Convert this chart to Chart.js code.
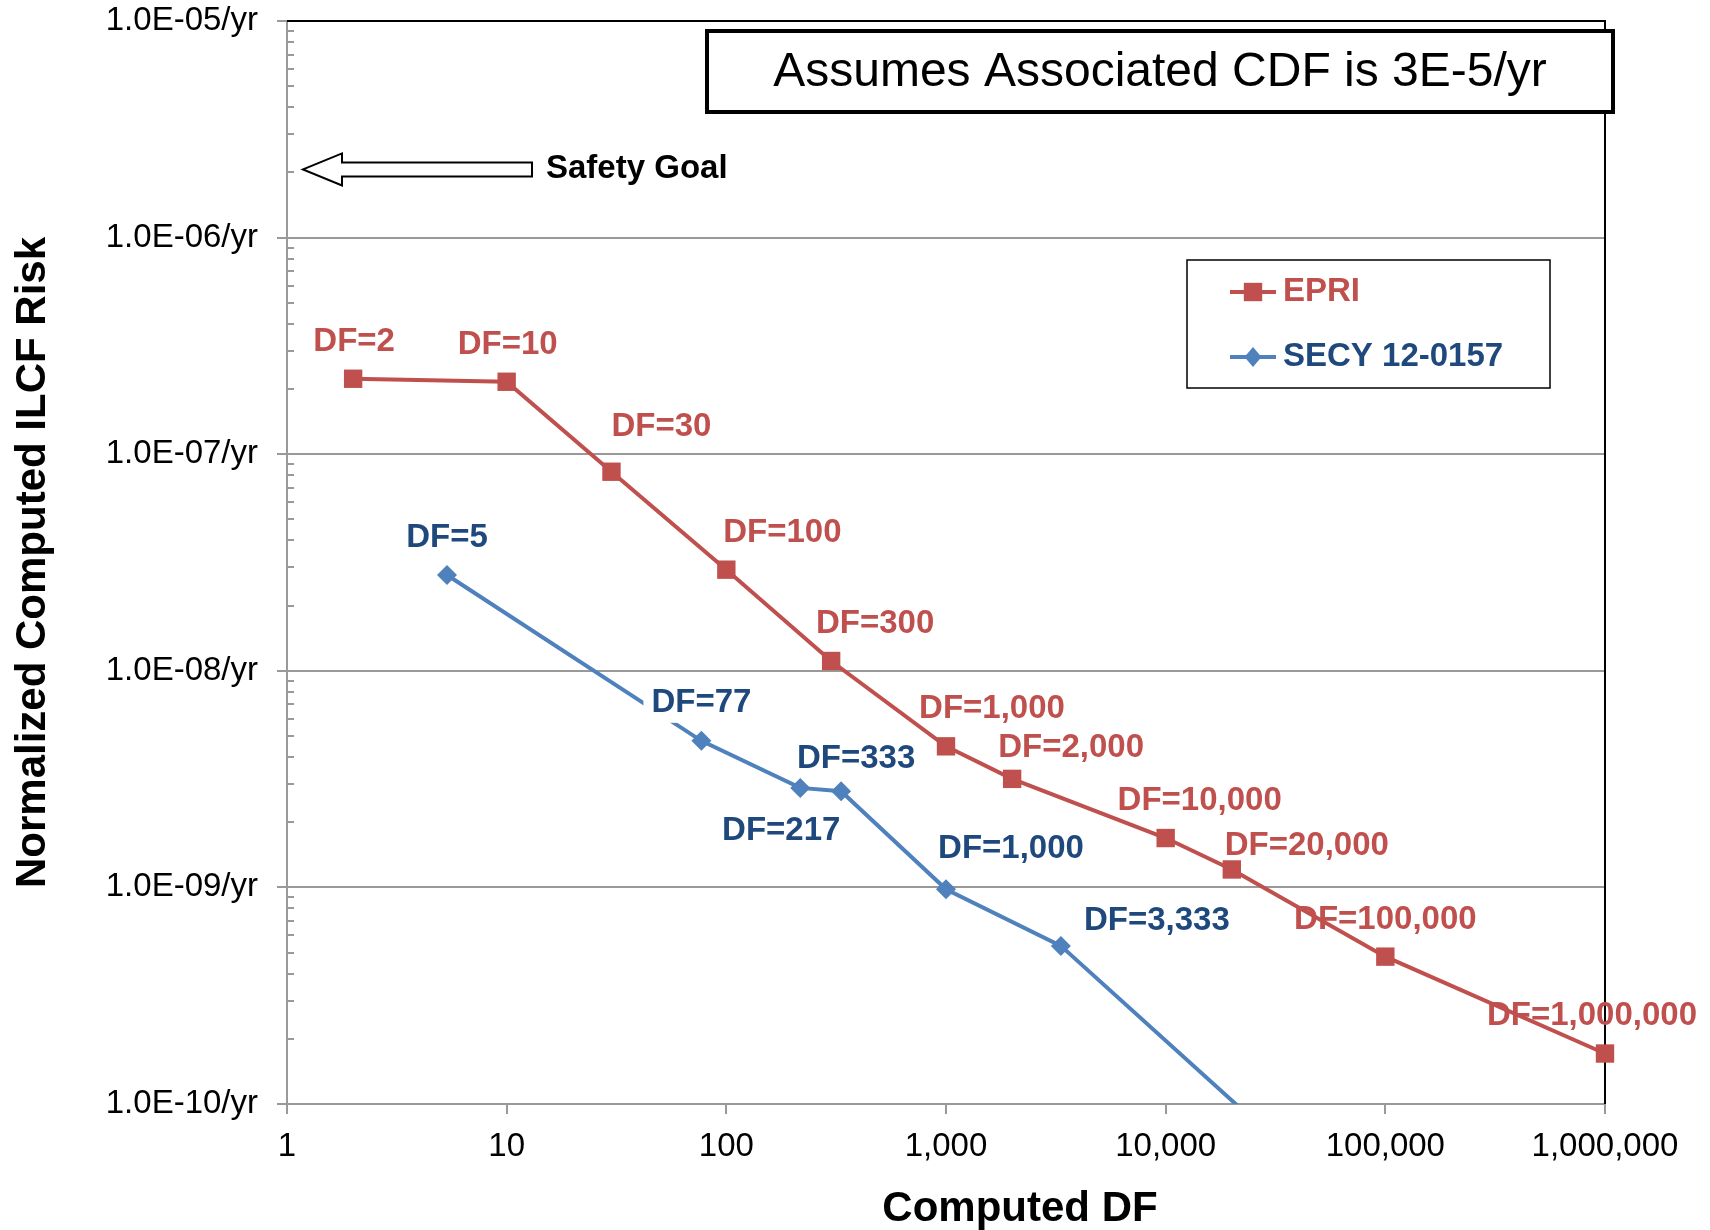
<!DOCTYPE html>
<html>
<head>
<meta charset="utf-8">
<script src="https://cdn.jsdelivr.net/npm/chart.js@4.4.1/dist/chart.umd.min.js"></script>
<style>
  html, body { margin: 0; padding: 0; background: #fff; }
</style>
</head>
<body>
<canvas id="chart" width="1710" height="1230"></canvas>
<script>
// EPRI series
const epriDF = [2, 10, 30, 100, 300, 1000, 2000, 10000, 20000, 100000, 1000000];
const epriRisk = [2.23e-7, 2.16e-7, 8.3e-8, 2.93e-8, 1.11e-8, 4.48e-9, 3.17e-9, 1.69e-9, 1.21e-9, 4.79e-10, 1.71e-10];
const epriLabels = ["DF=2", "DF=10", "DF=30", "DF=100", "DF=300", "DF=1,000", "DF=2,000",
  "DF=10,000", "DF=20,000", "DF=100,000", "DF=1,000,000"];

// SECY 12-0157 series (last point runs off the bottom of the axis)
const secyDF = [5.35, 77, 217, 333, 1000, 3333, 33333];
const secyRisk = [2.77e-8, 4.75e-9, 2.88e-9, 2.78e-9, 9.8e-10, 5.37e-10, 6.5e-11];
const secyLabels = ["DF=5", "DF=77", "DF=217", "DF=333", "DF=1,000", "DF=3,333", ""];

// axes
const xTicks = [1, 10, 100, 1000, 10000, 100000, 1000000];
const xTickLabels = ["1", "10", "100", "1,000", "10,000", "100,000", "1,000,000"];
const yTicks = [1e-10, 1e-9, 1e-8, 1e-7, 1e-6, 1e-5];
const yTickLabels = ["1.0E-10/yr", "1.0E-09/yr", "1.0E-08/yr", "1.0E-07/yr", "1.0E-06/yr", "1.0E-05/yr"];

const safetyGoal = 2e-6;
const noteText = "Assumes Associated CDF is 3E-5/yr";

// label placement relative to each point (px)
const epriLabelOffsets = [[1, -37], [1, -37], [50, -45], [56, -37], [44, -37], [46, -37],
  [59, -31], [34, -37], [75, -24], [0, -37], [-13, -38]];
const secyLabelOffsets = [[0, -37], [0, -38], [-19, 43], [15, -32], [65, -40], [96, -25], null];

const FONT = "'Liberation Sans', Arial, sans-serif";
const RED = "#C0504D";
const BLUE = "#4F81BD";
const NAVY = "#1F497D";

// top / right frame + minor ticks on the y axis
const framePlugin = {
  id: "frame",
  beforeDatasetsDraw(chart) {
    const { ctx, chartArea: a } = chart;
    const y = chart.scales.y;
    ctx.save();
    ctx.strokeStyle = "#999";
    ctx.lineWidth = 2;
    for (let n = -10; n < -5; n++) {
      for (let m = 2; m < 10; m++) {
        const py = Math.round(y.getPixelForValue(m * Math.pow(10, n)));
        ctx.beginPath();
        ctx.moveTo(a.left, py);
        ctx.lineTo(a.left + 7, py);
        ctx.stroke();
      }
    }
    ctx.strokeStyle = "#000";
    ctx.lineWidth = 2;
    ctx.beginPath();
    ctx.moveTo(a.left, a.top);
    ctx.lineTo(a.right, a.top);
    ctx.lineTo(a.right, a.bottom);
    ctx.stroke();
    ctx.restore();
  }
};

function drawMarker(ctx, style, x, y, r, color) {
  ctx.fillStyle = color;
  ctx.beginPath();
  if (style === "rect") {
    const s = Math.SQRT1_2 * r;
    ctx.rect(x - s, y - s, 2 * s, 2 * s);
  } else {
    ctx.moveTo(x, y - r);
    ctx.lineTo(x + r * 0.85, y);
    ctx.lineTo(x, y + r);
    ctx.lineTo(x - r * 0.85, y);
    ctx.closePath();
  }
  ctx.fill();
}

const annotatePlugin = {
  id: "annotate",
  afterDatasetsDraw(chart) {
    const { ctx } = chart;
    ctx.save();
    ctx.font = "bold 33px " + FONT;
    ctx.textAlign = "center";
    ctx.textBaseline = "middle";
    const sets = [
      { meta: chart.getDatasetMeta(0), texts: epriLabels, offs: epriLabelOffsets, color: RED },
      { meta: chart.getDatasetMeta(1), texts: secyLabels, offs: secyLabelOffsets, color: NAVY }
    ];
    sets.forEach(s => {
      s.meta.data.forEach((pt, i) => {
        const off = s.offs[i];
        if (!off || !s.texts[i]) return;
        const tx = pt.x + off[0];
        const ty = pt.y + off[1];
        if (s.texts[i] === "DF=77") {
          const w = ctx.measureText(s.texts[i]).width;
          ctx.fillStyle = "#fff";
          ctx.fillRect(tx - w / 2 - 8, ty - 18, w + 16, 38);
        }
        ctx.fillStyle = s.color;
        ctx.fillText(s.texts[i], tx, ty);
      });
    });
    ctx.restore();
  },
  afterDraw(chart) {
    const { ctx, chartArea: a } = chart;
    const ys = chart.scales.y;
    ctx.save();

    // note box
    ctx.fillStyle = "#fff";
    ctx.fillRect(707, 31, 906, 81);
    ctx.strokeStyle = "#000";
    ctx.lineWidth = 4;
    ctx.strokeRect(707, 31, 906, 81);
    ctx.fillStyle = "#000";
    ctx.font = "48px " + FONT;
    ctx.textAlign = "center";
    ctx.textBaseline = "middle";
    ctx.fillText(noteText, 1160, 73);

    // safety goal arrow
    const gy = ys.getPixelForValue(safetyGoal) - 3;
    ctx.beginPath();
    ctx.moveTo(a.left + 16, gy);
    ctx.lineTo(342, gy - 16);
    ctx.lineTo(342, gy - 7);
    ctx.lineTo(532, gy - 7);
    ctx.lineTo(532, gy + 7);
    ctx.lineTo(342, gy + 7);
    ctx.lineTo(342, gy + 16);
    ctx.closePath();
    ctx.fillStyle = "#fff";
    ctx.fill();
    ctx.lineWidth = 2;
    ctx.strokeStyle = "#000";
    ctx.stroke();
    ctx.fillStyle = "#000";
    ctx.font = "bold 33px " + FONT;
    ctx.textAlign = "left";
    ctx.fillText("Safety Goal", 546, gy);

    // legend
    ctx.fillStyle = "#fff";
    ctx.fillRect(1187, 260, 363, 128);
    ctx.lineWidth = 1.5;
    ctx.strokeStyle = "#000";
    ctx.strokeRect(1187, 260, 363, 128);
    const entries = [
      { ds: chart.data.datasets[0], y: 292, textColor: RED },
      { ds: chart.data.datasets[1], y: 357, textColor: NAVY }
    ];
    entries.forEach(e => {
      ctx.strokeStyle = e.ds.borderColor;
      ctx.lineWidth = 4;
      ctx.beginPath();
      ctx.moveTo(1230, e.y);
      ctx.lineTo(1276, e.y);
      ctx.stroke();
      drawMarker(ctx, e.ds.pointStyle, 1253, e.y, e.ds.pointRadius, e.ds.backgroundColor);
      ctx.fillStyle = e.textColor;
      ctx.font = "bold 33px " + FONT;
      ctx.textAlign = "left";
      ctx.fillText(e.ds.label, 1283, e.y);
    });

    // x title
    ctx.fillStyle = "#000";
    ctx.font = "bold 42px " + FONT;
    ctx.textAlign = "center";
    ctx.fillText("Computed DF", 1020, 1209);
    ctx.restore();
  }
};

new Chart(document.getElementById("chart"), {
  type: "line",
  data: {
    datasets: [
      {
        label: "EPRI",
        data: epriDF.map((d, i) => ({ x: d, y: epriRisk[i] })),
        borderColor: RED,
        backgroundColor: RED,
        borderWidth: 4,
        pointStyle: "rect",
        pointRadius: 13,
        pointBorderWidth: 0,
        clip: false
      },
      {
        label: "SECY 12-0157",
        data: secyDF.map((d, i) => ({ x: d, y: secyRisk[i] })),
        borderColor: BLUE,
        backgroundColor: BLUE,
        borderWidth: 4,
        pointStyle: "rectRot",
        pointRadius: 10,
        pointBorderWidth: 0
      }
    ]
  },
  options: {
    responsive: false,
    animation: false,
    devicePixelRatio: 1,
    layout: { padding: { left: 0, right: 105, top: 21, bottom: 0 } },
    plugins: { legend: { display: false }, tooltip: { enabled: false } },
    scales: {
      x: {
        type: "logarithmic",
        min: 1,
        max: 1000000,
        afterBuildTicks: s => { s.ticks = xTicks.map(v => ({ value: v })); },
        afterFit: s => { s.height = 126; },
        ticks: {
          callback: (v, i) => xTickLabels[i],
          font: { family: FONT, size: 33 },
          color: "#000",
          padding: 13,
          maxRotation: 0,
          autoSkip: false
        },
        grid: { drawOnChartArea: false, color: "#999", lineWidth: 2, tickLength: 10 },
        border: { color: "#999", width: 2 }
      },
      y: {
        type: "logarithmic",
        min: 1e-10,
        max: 1e-5,
        afterBuildTicks: s => { s.ticks = yTicks.map(v => ({ value: v })); },
        afterFit: s => {
          s.width = 287;
          s.paddingTop = 0;
          s.paddingBottom = 0;
        },
        ticks: {
          callback: (v, i) => yTickLabels[i],
          font: { family: FONT, size: 33 },
          color: "#000",
          padding: 19,
          autoSkip: false
        },
        grid: { color: "#999", lineWidth: 2, tickLength: 10 },
        border: { color: "#999", width: 2 },
        title: {
          display: true,
          text: "Normalized Computed ILCF Risk",
          font: { family: FONT, size: 42, weight: "bold" },
          color: "#000",
          padding: { top: 8, bottom: 0 }
        }
      }
    }
  },
  plugins: [framePlugin, annotatePlugin]
});
</script>
</body>
</html>
